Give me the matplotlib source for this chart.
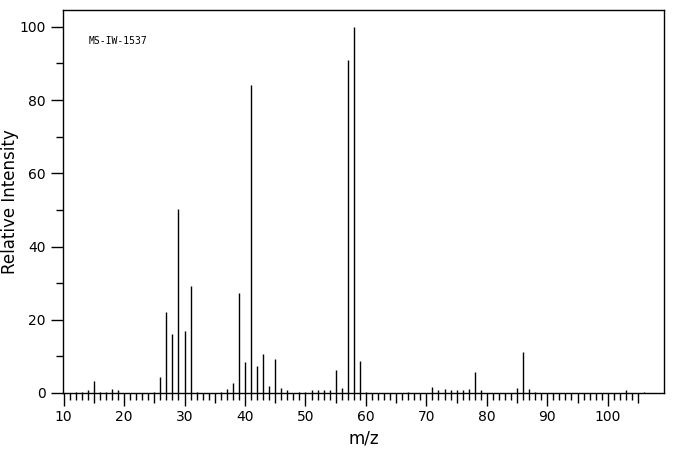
import matplotlib
matplotlib.use("Agg")
import matplotlib.pyplot as plt
from matplotlib.ticker import MultipleLocator, FixedLocator

# mass spectrum peaks
mz = [12, 13, 14, 15, 16, 17, 18, 19, 25, 26, 27, 28, 29, 30, 31, 32,
      36, 37, 38, 39, 40, 41, 42, 43, 44, 45, 46, 47, 49, 50, 51, 52, 53, 54,
      55, 56, 57, 58, 59, 60, 67, 71, 72, 73, 74, 75, 76, 77, 78, 79,
      85, 86, 87, 88, 103, 106]
intensity = [0.3, 0.4, 0.7, 3.4, 0.3, 0.4, 1.2, 0.9, 0.4, 4.5, 22.2, 16.0, 50.3, 17.0, 29.2, 0.4,
             0.4, 1.2, 2.8, 27.3, 8.6, 84.2, 7.5, 10.7, 2.0, 9.4, 1.5, 0.9, 0.4, 0.4, 0.9, 0.9, 0.7, 0.7,
             6.2, 1.5, 91.0, 100.0, 8.8, 0.3, 0.4, 1.7, 0.9, 1.2, 0.7, 0.7, 0.7, 1.2, 5.6, 0.7,
             1.5, 11.3, 1.2, 0.4, 0.7, 0.4]

fig = plt.figure(figsize=(6.76, 4.55), dpi=100)
ax = fig.add_axes([63 / 676, 62 / 455, 601 / 676, 383 / 455])

ax.vlines(mz, 0, intensity, colors="black", linewidth=1.0)

ax.set_xlim(9.9, 109.3)
ax.set_ylim(0, 104.6)

ax.set_xticks(range(10, 101, 10))
ax.xaxis.set_minor_locator(FixedLocator(range(10, 106)))
ax.yaxis.set_major_locator(MultipleLocator(20))
ax.yaxis.set_minor_locator(MultipleLocator(10))
ax.tick_params(axis="both", which="major", length=9, width=1, labelsize=10, direction="out")
ax.tick_params(axis="x", which="minor", length=5, width=1)
ax.tick_params(axis="y", which="minor", length=5, width=1)

# slightly longer ticks at the fives
fig.canvas.draw()
for t in ax.xaxis.get_minor_ticks():
    if abs(t.get_loc() % 10 - 5) < 1e-6:
        t.tick1line.set_markersize(7)

for s in ax.spines.values():
    s.set_linewidth(1)

ax.set_xlabel("m/z", fontsize=12)
ax.set_ylabel("Relative Intensity", fontsize=12)
ax.yaxis.set_label_coords(-0.073, 0.5)
ax.text(0.042, 0.919, "MS-IW-1537", transform=ax.transAxes, fontsize=7,
        family="DejaVu Sans Mono", va="center")

fig.savefig("out.png", dpi=100)
